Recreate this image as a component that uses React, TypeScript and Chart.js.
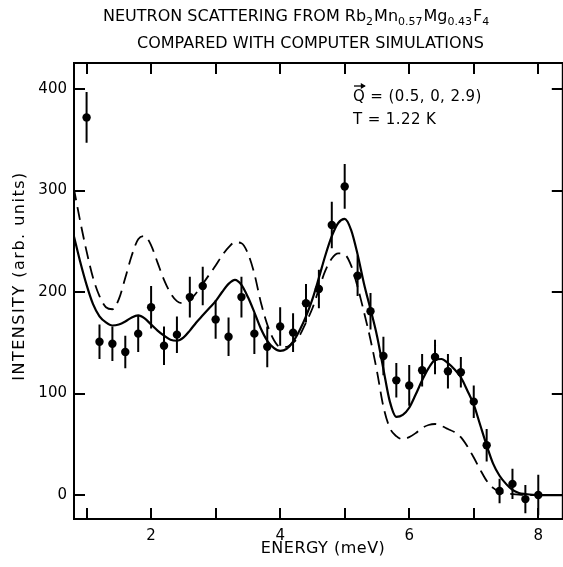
import React, { useEffect, useRef } from "react";
import { Chart, registerables } from "chart.js";

Chart.register(...registerables);

// ---------- data ----------
const energy = [1.0, 1.2, 1.4, 1.6, 1.8, 2.0, 2.2, 2.4, 2.6, 2.8, 3.0, 3.2, 3.4, 3.6, 3.8, 4.0, 4.2, 4.4, 4.6, 4.8, 5.0, 5.2, 5.4, 5.6, 5.8, 6.0, 6.2, 6.4, 6.6, 6.8, 7.0, 7.2, 7.4, 7.6, 7.8, 8.0];
const intensity = [372, 151, 149, 141, 159, 185, 147, 158, 195, 206, 173, 156, 195, 159, 146, 166, 160, 189, 203, 266, 304, 216, 181, 137, 113, 108, 123, 136, 122, 121, 92, 49, 4, 11, -4, 0];
const errors = [25, 17, 17, 16, 18, 21, 19, 18, 20, 19, 19, 19, 20, 20, 20, 19, 19, 19, 19, 23, 22, 20, 18, 19, 17, 20, 16, 17, 17, 15, 16, 16, 12, 15, 14, 20];

const curveEnergy = [0.8, 0.9, 1.0, 1.1, 1.2, 1.3, 1.4, 1.5, 1.6, 1.7, 1.8, 1.9, 2.0, 2.1, 2.2, 2.3, 2.4, 2.5, 2.6, 2.7, 2.8, 2.9, 3.0, 3.1, 3.2, 3.3, 3.4, 3.5, 3.6, 3.7, 3.8, 3.9, 4.0, 4.1, 4.2, 4.3, 4.4, 4.5, 4.6, 4.7, 4.8, 4.9, 5.0, 5.1, 5.2, 5.3, 5.4, 5.5, 5.6, 5.7, 5.8, 5.9, 6.0, 6.1, 6.2, 6.3, 6.4, 6.5, 6.6, 6.7, 6.8, 6.9, 7.0, 7.1, 7.2, 7.3, 7.4, 7.5, 7.6, 7.7, 7.8, 8.0, 8.5];
const simulationSolid = [256, 230, 207, 188, 176, 170, 167, 168, 171, 175, 177, 174, 168, 162, 157, 153, 152, 155, 162, 170, 177, 184, 191, 200, 208, 212, 207, 195, 180, 164, 152, 145, 142, 144, 151, 162, 176, 193, 214, 236, 255, 268, 272, 261, 237, 208, 183, 157, 124, 92, 77, 79, 86, 99, 113, 125, 133, 134, 130, 124, 116, 103, 89, 69, 49, 31, 19, 11, 5, 2, 1, 0, 0];
const simulationDashed = [303, 270, 240, 214, 196, 185, 183, 193, 214, 236, 252, 255, 246, 229, 212, 199, 191, 189, 192, 199, 208, 217, 226, 236, 244, 249, 248, 238, 218, 190, 168, 153, 146, 146, 150, 157, 170, 184, 203, 221, 233, 238, 237, 226, 205, 180, 153, 122, 87, 66, 58, 55, 57, 61, 66, 69, 70, 68, 65, 62, 57, 48, 37, 25, 14, 7, 3, 1.5, 1, 0.5, 0, 0, 0];

const xTickValues = [1, 2, 3, 4, 5, 6, 7, 8];
const xLabelValues = [2, 4, 6, 8];
const yTickValues = [0, 100, 200, 300, 400];

const titleLine1 = [
  { t: "NEUTRON SCATTERING FROM Rb", sub: false },
  { t: "2", sub: true },
  { t: "Mn", sub: false },
  { t: "0.57", sub: true },
  { t: "Mg", sub: false },
  { t: "0.43", sub: true },
  { t: "F", sub: false },
  { t: "4", sub: true },
];
const titleLine2 = "COMPARED WITH COMPUTER SIMULATIONS";
const xAxisTitle = "ENERGY (meV)";
const yAxisTitle = "INTENSITY (arb. units)";
const annotationQ = "Q = (0.5, 0, 2.9)";
const annotationT = "T = 1.22 K";

const FONT = "'DejaVu Sans', sans-serif";

const decorPlugin = {
  id: "decor",
  afterDatasetsDraw(chart: any) {
    const { ctx, chartArea, scales } = chart;
    const xs = scales.x;
    const ys = scales.y;
    ctx.save();
    ctx.beginPath();
    ctx.rect(chartArea.left, chartArea.top, chartArea.right - chartArea.left, chartArea.bottom - chartArea.top);
    ctx.clip();
    // error bars
    ctx.strokeStyle = "#000";
    ctx.lineWidth = 2;
    ctx.beginPath();
    energy.forEach((e, i) => {
      const px = xs.getPixelForValue(e);
      ctx.moveTo(px, ys.getPixelForValue(intensity[i] - errors[i]));
      ctx.lineTo(px, ys.getPixelForValue(intensity[i] + errors[i]));
    });
    ctx.stroke();
    ctx.restore();
  },
  afterDraw(chart: any) {
    const { ctx, chartArea, scales } = chart;
    const xs = scales.x;
    const ys = scales.y;
    const { left, right, top, bottom } = chartArea;
    ctx.save();
    // frame
    ctx.strokeStyle = "#000";
    ctx.lineWidth = 2;
    ctx.strokeRect(left, top, right - left, bottom - top);
    // inward ticks
    const tl = 11;
    ctx.beginPath();
    xTickValues.forEach((v) => {
      const px = Math.round(xs.getPixelForValue(v));
      ctx.moveTo(px, bottom);
      ctx.lineTo(px, bottom - tl);
      ctx.moveTo(px, top);
      ctx.lineTo(px, top + tl);
    });
    yTickValues.forEach((v) => {
      const py = Math.round(ys.getPixelForValue(v));
      ctx.moveTo(left, py);
      ctx.lineTo(left + tl, py);
      ctx.moveTo(right, py);
      ctx.lineTo(right - tl, py);
    });
    ctx.stroke();

    ctx.fillStyle = "#000";
    // title
    ctx.textBaseline = "alphabetic";
    ctx.textAlign = "left";
    let x = 103;
    const big = `16px ${FONT}`;
    const small = `11px ${FONT}`;
    titleLine1.forEach((seg) => {
      ctx.font = seg.sub ? small : big;
      ctx.fillText(seg.t, x, seg.sub ? 25 : 21);
      x += ctx.measureText(seg.t).width + (seg.sub ? 1 : 0);
    });
    ctx.font = big;
    ctx.fillText(titleLine2, 137, 48);

    // annotation
    ctx.font = `15px ${FONT}`;
    (ctx as any).letterSpacing = "0.4px";
    ctx.fillText(annotationQ, 353, 101);
    ctx.fillText(annotationT, 353, 124);
    (ctx as any).letterSpacing = "0px";
    // arrow over Q
    const qw = ctx.measureText("Q").width;
    ctx.lineWidth = 1.3;
    ctx.beginPath();
    ctx.moveTo(354, 86);
    ctx.lineTo(353 + qw, 86);
    ctx.stroke();
    ctx.beginPath();
    ctx.moveTo(353 + qw + 1, 86);
    ctx.lineTo(353 + qw - 4, 83);
    ctx.lineTo(353 + qw - 4, 89);
    ctx.closePath();
    ctx.fill();

    // axis titles
    ctx.textAlign = "center";
    ctx.textBaseline = "middle";
    ctx.font = `16px ${FONT}`;
    (ctx as any).letterSpacing = "0.5px";
    ctx.fillText(xAxisTitle, 323, 549);
    ctx.save();
    ctx.translate(20, 276);
    ctx.rotate(-Math.PI / 2);
    (ctx as any).letterSpacing = "1.5px";
    ctx.fillText(yAxisTitle, 0, 0);
    ctx.restore();
    ctx.restore();
  },
};

export default function App() {
  const ref = useRef<HTMLCanvasElement | null>(null);
  useEffect(() => {
    document.body.style.margin = "0";
    const canvas = ref.current!;
    const chart = new Chart(canvas, {
      type: "scatter",
      data: {
        datasets: [
          {
            type: "scatter",
            label: "Measured",
            data: energy.map((e, i) => ({ x: e, y: intensity[i] })),
            pointRadius: 4.2,
            pointBackgroundColor: "#000",
            pointBorderColor: "#000",
            pointBorderWidth: 0,
          } as any,
          {
            type: "line",
            label: "Simulation (solid)",
            data: curveEnergy.map((e, i) => ({ x: e, y: simulationSolid[i] })),
            borderColor: "#000",
            borderWidth: 2.2,
            pointRadius: 0,
            cubicInterpolationMode: "monotone",
            fill: false,
          } as any,
          {
            type: "line",
            label: "Simulation (dashed)",
            data: curveEnergy.map((e, i) => ({ x: e, y: simulationDashed[i] })),
            borderColor: "#000",
            borderWidth: 1.8,
            borderDash: [13, 7],
            pointRadius: 0,
            cubicInterpolationMode: "monotone",
            fill: false,
          } as any,
        ],
      },
      options: {
        animation: false,
        responsive: false,
        devicePixelRatio: 1,
        layout: { padding: { top: 63, right: 2, left: 0, bottom: 0 } },
        plugins: {
          legend: { display: false },
          tooltip: { enabled: false },
          title: { display: false },
        },
        scales: {
          x: {
            type: "linear",
            min: 0.805,
            max: 8.38,
            grid: { display: false, drawTicks: false },
            border: { display: false },
            ticks: {
              stepSize: 2,
              includeBounds: false,
              padding: 8,
              color: "#000",
              font: { family: FONT, size: 15 },
              callback: (v: any) => (xLabelValues.includes(Number(v)) ? String(v) : ""),
            },
            afterFit: (s: any) => {
              s.height = 48;
            },
          },
          y: {
            type: "linear",
            min: -23.6,
            max: 425.6,
            grid: { display: false, drawTicks: false },
            border: { display: false },
            ticks: {
              stepSize: 100,
              includeBounds: false,
              padding: 7,
              color: "#000",
              font: { family: FONT, size: 15 },
              callback: (v: any) => (yTickValues.includes(Number(v)) ? String(v) : ""),
            },
            afterFit: (s: any) => {
              s.width = 74;
            },
          },
        },
      },
      plugins: [decorPlugin],
    });
    return () => chart.destroy();
  }, []);
  return (
    <div style={{ position: "fixed", left: 0, top: 0, width: 563, height: 567, overflow: "hidden", background: "#fff" }}>
      <canvas ref={ref} width={567} height={567} style={{ width: 567, height: 567, display: "block" }} />
    </div>
  );
}
